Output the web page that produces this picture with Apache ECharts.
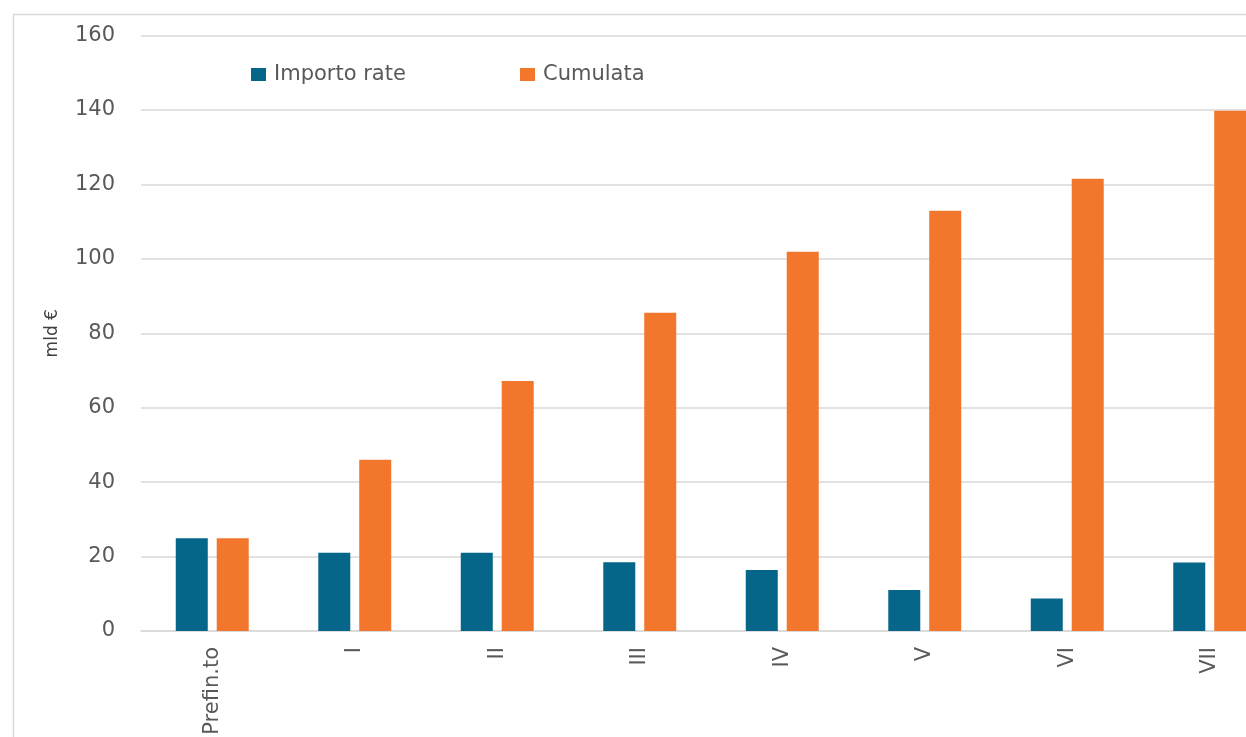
<!DOCTYPE html>
<html>
<head>
<meta charset="utf-8">
<script src="https://cdn.jsdelivr.net/npm/echarts@6/dist/echarts.min.js"></script>
<style>html,body{margin:0;padding:0;background:#fff;overflow:hidden;}#c{width:1246px;height:737px;}</style>
</head>
<body>
<div id="c"></div>
<script>
const categories = ['Prefin.to', 'I', 'II', 'III', 'IV', 'V', 'VI', 'VII'];
const importoRate = [24.9, 21.0, 21.0, 18.5, 16.4, 11.0, 8.7, 18.4];
const cumulata = [24.9, 46.0, 67.2, 85.5, 101.9, 112.9, 121.5, 139.8];
const seriesNames = ['Importo rate', 'Cumulata'];
const yTicks = { min: 0, max: 160, interval: 20 };

const chart = echarts.init(document.getElementById('c'), null, { renderer: 'canvas' });
const font = '"DejaVu Sans", "Open Sans", sans-serif';
const legendText = { fontSize: 21, color: '#595959', fontFamily: font, padding: [0, 0, 0, 3] };
chart.setOption({
  backgroundColor: '#ffffff',
  animation: false,
  textStyle: { fontFamily: font },
  graphic: [{
    type: 'rect', left: 11, top: 12, silent: true,
    shape: { width: 1300, height: 800 },
    style: { fill: 'none', stroke: '#d9d9d9', lineWidth: 1.5 }
  }],
  legend: [
    { left: 246, top: 59, itemWidth: 15, itemHeight: 13, icon: 'rect',
      textStyle: legendText, data: [seriesNames[0]] },
    { left: 515, top: 59, itemWidth: 15, itemHeight: 13, icon: 'rect',
      textStyle: legendText, data: [seriesNames[1]] }
  ],
  grid: { left: 141, top: 35.5, width: 1140, height: 595.5, containLabel: false, outerBoundsMode: 'none' },
  xAxis: {
    type: 'category',
    data: categories,
    axisLine: { show: true, lineStyle: { color: '#d9d9d9', width: 1.5 } },
    axisTick: { show: false },
    axisLabel: { rotate: 90, fontSize: 21, color: '#595959', margin: 16, fontFamily: font, interval: 0 }
  },
  yAxis: {
    type: 'value',
    min: yTicks.min, max: yTicks.max, interval: yTicks.interval,
    name: 'mld €',
    nameLocation: 'middle',
    nameGap: 80,
    nameRotate: 90,
    nameTextStyle: { fontSize: 17, color: '#404040', fontFamily: font },
    axisLine: { show: false },
    axisTick: { show: false },
    axisLabel: { fontSize: 21, color: '#595959', margin: 26, fontFamily: font },
    splitLine: { lineStyle: { color: '#d9d9d9', width: 1.5 } }
  },
  series: [
    { name: seriesNames[0], type: 'bar', data: importoRate, barWidth: 32, barGap: '28%',
      itemStyle: { color: '#05668a' } },
    { name: seriesNames[1], type: 'bar', data: cumulata, barWidth: 32, barGap: '28%',
      itemStyle: { color: '#f3762d' } }
  ]
});
</script>
</body>
</html>
